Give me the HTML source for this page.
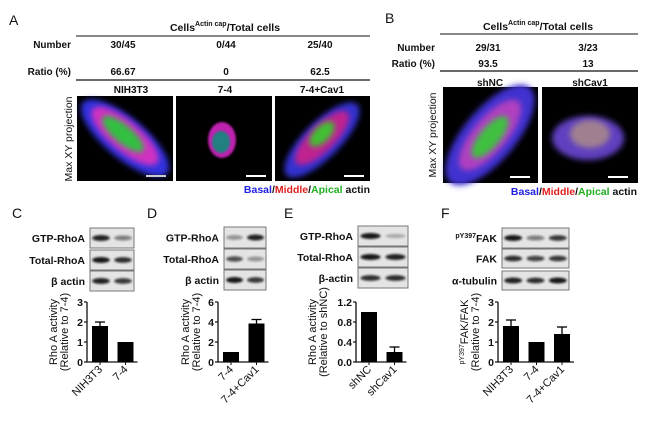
<!DOCTYPE html>
<html><head><meta charset="utf-8"><style>
body{margin:0;background:#fff;}
svg{display:block;font-family:"Liberation Sans",Arial,sans-serif;}
.t{font-size:10px;font-weight:bold;fill:#111;}
.pl{font-size:14px;fill:#111;}
</style></head><body>
<svg id="fig" width="650" height="435" viewBox="0 0 650 435">
<defs>
<filter id="bl" x="-50%" y="-50%" width="200%" height="200%"><feGaussianBlur stdDeviation="3"/></filter>
<filter id="bl2" x="-50%" y="-50%" width="200%" height="200%"><feGaussianBlur stdDeviation="1.1"/></filter>
</defs>
<!-- Panel A -->
<text class="pl" x="9" y="25">A</text>
<text class="t" x="225" y="31" text-anchor="middle" style="font-size:10.5px">Cells<tspan font-size="7" dy="-5">Actin cap</tspan><tspan dy="5">/Total cells</tspan></text>
<line x1="76" y1="36" x2="370" y2="36" stroke="#111"/>
<g class="t">
<text x="71" y="48" text-anchor="end">Number</text>
<text x="123" y="48" text-anchor="middle">30/45</text>
<text x="226" y="48" text-anchor="middle">0/44</text>
<text x="320" y="48" text-anchor="middle">25/40</text>
<text x="71" y="75" text-anchor="end">Ratio (%)</text>
<text x="123" y="75" text-anchor="middle">66.67</text>
<text x="226" y="75" text-anchor="middle">0</text>
<text x="320" y="75" text-anchor="middle">62.5</text>
<text x="131" y="93" text-anchor="middle">NIH3T3</text>
<text x="225" y="93" text-anchor="middle">7-4</text>
<text x="322" y="93" text-anchor="middle">7-4+Cav1</text>
</g>
<line x1="76" y1="80" x2="370" y2="80" stroke="#111" stroke-width="1.3"/>
<text class="t" transform="translate(72,139) rotate(-90)" text-anchor="middle" style="font-weight:normal;font-size:10.5px">Max XY projection</text>
<g>
<rect x="77" y="96" width="96" height="85" fill="#000"/>
<ellipse cx="125" cy="138" rx="55" ry="20" transform="rotate(40 125 138)" fill="#3030e0" filter="url(#bl)"/>
<ellipse cx="125" cy="136" rx="42" ry="15" transform="rotate(40 125 136)" fill="#d030c0" filter="url(#bl)"/>
<ellipse cx="123" cy="134" rx="26" ry="9" transform="rotate(40 123 134)" fill="#30c040" filter="url(#bl)"/>
<rect x="146" y="175" width="20" height="2" fill="#ccc"/></g>
<g>
<rect x="176" y="96" width="96" height="85" fill="#000"/>
<ellipse cx="222" cy="140" rx="14" ry="18" fill="#c020b0" filter="url(#bl2)"/>
<ellipse cx="221" cy="142" rx="9" ry="11" fill="#208080" filter="url(#bl2)"/>
<rect x="246" y="175" width="20" height="2" fill="#fff"/></g>
<g>
<rect x="275" y="96" width="95" height="85" fill="#000"/>
<ellipse cx="322" cy="140" rx="50" ry="18" transform="rotate(-45 322 140)" fill="#3030d0" filter="url(#bl)"/>
<ellipse cx="322" cy="138" rx="36" ry="13" transform="rotate(-45 322 138)" fill="#c02090" filter="url(#bl)"/>
<ellipse cx="322" cy="134" rx="16" ry="8" transform="rotate(-45 322 134)" fill="#40c030" filter="url(#bl)"/>
<rect x="344" y="175" width="20" height="2" fill="#fff"/></g>
<text class="t" x="370" y="193" text-anchor="end" style="font-size:10.5px"><tspan fill="#2020e0">Basal</tspan>/<tspan fill="#e02020">Middle</tspan>/<tspan fill="#20b020">Apical</tspan> actin</text>
<!-- Panel B -->
<text class="pl" x="385" y="23">B</text>
<text class="t" x="538" y="30" text-anchor="middle" style="font-size:10.5px">Cells<tspan font-size="7" dy="-5">Actin cap</tspan><tspan dy="5">/Total cells</tspan></text>
<line x1="440" y1="34" x2="638" y2="34" stroke="#111"/>
<g class="t">
<text x="435" y="51" text-anchor="end">Number</text>
<text x="488" y="51" text-anchor="middle">29/31</text>
<text x="588" y="51" text-anchor="middle">3/23</text>
<text x="435" y="67" text-anchor="end">Ratio (%)</text>
<text x="488" y="67" text-anchor="middle">93.5</text>
<text x="588" y="67" text-anchor="middle">13</text>
<text x="490" y="86" text-anchor="middle">shNC</text>
<text x="590" y="86" text-anchor="middle">shCav1</text>
</g>
<line x1="440" y1="71" x2="638" y2="71" stroke="#111" stroke-width="1.3"/>
<text class="t" transform="translate(436,135) rotate(-90)" text-anchor="middle" style="font-weight:normal;font-size:10.5px">Max XY projection</text>
<g>
<rect x="443" y="87" width="95" height="96" fill="#000"/>
<ellipse cx="490" cy="135" rx="62" ry="26" transform="rotate(-50 490 135)" fill="#4030d0" filter="url(#bl)"/>
<ellipse cx="490" cy="135" rx="44" ry="17" transform="rotate(-50 490 135)" fill="#b040c0" filter="url(#bl)"/>
<ellipse cx="490" cy="137" rx="26" ry="10" transform="rotate(-50 490 137)" fill="#40c040" filter="url(#bl)"/>
<rect x="510" y="176" width="20" height="2" fill="#fff"/></g>
<g>
<rect x="542" y="87" width="96" height="96" fill="#000"/>
<ellipse cx="588" cy="138" rx="36" ry="22" fill="#6040c0" filter="url(#bl)"/>
<ellipse cx="590" cy="134" rx="20" ry="14" fill="#a08090" filter="url(#bl)"/>
<rect x="608" y="176" width="20" height="2" fill="#fff"/></g>
<text class="t" x="637" y="195" text-anchor="end" style="font-size:10.5px"><tspan fill="#2020e0">Basal</tspan>/<tspan fill="#e02020">Middle</tspan>/<tspan fill="#20b020">Apical</tspan> actin</text>
<!-- lower panel labels -->
<text class="pl" x="12" y="218">C</text>
<text class="pl" x="147" y="218">D</text>
<text class="pl" x="284" y="218">E</text>
<text class="pl" x="441" y="218">F</text>
<g id="blots"></g>
<g id="charts"></g>
</svg>
<script>
const NS="http://www.w3.org/2000/svg";
// Chart data
const cCats=["NIH3T3","7-4"], cVals=[1.8,1], cErr=[0.2,0], cTicks=["0","1","2","3"], cMax=3;
const dCats=["7-4","7-4+Cav1"], dVals=[1,3.85], dErr=[0,0.4], dTicks=["0","2","4","6"], dMax=6;
const eCats=["shNC","shCav1"], eVals=[1,0.2], eErr=[0,0.1], eTicks=["0.0","0.4","0.8","1.2"], eMax=1.2;
const fCats=["NIH3T3","7-4","7-4+Cav1"], fVals=[1.8,1,1.4], fErr=[0.3,0,0.35], fTicks=["0","1","2","3"], fMax=3;

function mk(tag,attrs,parent){const e=document.createElementNS(NS,tag);for(const k in attrs)e.setAttribute(k,attrs[k]);parent.appendChild(e);return e;}
const charts=document.getElementById('charts');
const Y0=362,Y1=302;
function chart(key,ax,cats,vals,errs,ticks,max,title1,title2,tx){
  const g=mk('g',{},charts);
  
  
  const y=v=>Y0-(v/max)*(Y0-Y1);
  const bw=16,step=25.5;
  const xb=i=>ax+5+i*step;
  const axis=mk('path',{d:`M${ax},${Y1} V${Y0} H${xb(cats.length-1)+bw+4}`,stroke:'#111','stroke-width':1.3,fill:'none'},g);
  
  
  ticks.forEach((t,i)=>{
    const v=parseFloat(t),yy=y(v);
    mk('line',{x1:ax-3,x2:ax,y1:yy,y2:yy,stroke:'#111','stroke-width':1.2},g);
    const tl=mk('text',{x:ax-4,y:yy+4,'text-anchor':'end',class:'t',style:'font-size:10.5px'},g);
    tl.textContent=t;
    
    
  });
  cats.forEach((c,i)=>{
    const x=xb(i),top=y(vals[i]);
    const r=mk('rect',{x:x,y:top,width:bw,height:Y0-top,fill:'#000'},g);
    
    
    if(errs[i]>0){const ye=y(vals[i]+errs[i]);
      mk('line',{x1:x+bw/2,x2:x+bw/2,y1:top,y2:ye,stroke:'#000','stroke-width':1.3},g);
      mk('line',{x1:x+bw/2-5,x2:x+bw/2+5,y1:ye,y2:ye,stroke:'#000','stroke-width':1.3},g);}
    const cx=x+bw/2+3;
    mk('line',{x1:x+bw/2,x2:x+bw/2,y1:Y0,y2:Y0+3,stroke:'#111'},g);
    const l=mk('text',{x:cx,y:Y0+8,'text-anchor':'end',class:'t',transform:`rotate(-45 ${cx} ${Y0+8})`,style:'font-size:11px;font-weight:normal'},g);
    l.textContent=c;
    
    
  });
  const tt=mk('text',{transform:`translate(${tx},${(Y0+Y1)/2}) rotate(-90)`,'text-anchor':'middle',class:'t',style:'font-size:11px;font-weight:normal'},g);
  tt.innerHTML=`<tspan x="0" y="0">${title1}</tspan><tspan x="0" y="11">${title2}</tspan>`;
  
  
}
chart('c',87,cCats,cVals,cErr,cTicks,cMax,'Rho A activity','(Relative to 7-4)',57);
chart('d',218,dCats,dVals,dErr,dTicks,dMax,'Rho A activity','(Relative to 7-4)',189);
chart('e',356,eCats,eVals,eErr,eTicks,eMax,'Rho A activity','(Relative to shNC)',316);
chart('f',498,fCats,fVals,fErr,fTicks,fMax,'<tspan font-size="7" dy="-4">pY397</tspan><tspan dy="4">FAK/FAK</tspan>','(Relative to 7-4)',468);

// Blots
const blots=document.getElementById('blots');
function blot(key,x,w,rows,labels,bands){
  rows.forEach((r,ri)=>{
    const g=mk('g',{},blots);
    
    
    mk('rect',{x:x,y:r[0],width:w,height:r[1],fill:'#e4e4e4',stroke:'#777','stroke-width':1},g);
    const n=bands[ri].length, lw=w/n;
    bands[ri].forEach((b,bi)=>{
      mk('ellipse',{cx:x+lw*(bi+0.5),cy:r[0]+r[1]/2,rx:lw*0.4,ry:1.8+b*1.3,fill:'#111','fill-opacity':b,filter:'url(#bl2)'},g);
    });
    const t=mk('text',{x:x-5,y:r[0]+r[1]/2+4,'text-anchor':'end',class:'t',style:'font-size:10.5px'},g);
    t.innerHTML=labels[ri];
  });
}
blot('c',90,44,[[228,20],[250,20],[271,20]],['GTP-RhoA','Total-RhoA','β actin'],[[0.9,0.5],[0.95,0.85],[0.9,0.8]]);
blot('d',224,42,[[227,21],[249,20],[270,20]],['GTP-RhoA','Total-RhoA','β actin'],[[0.4,0.9],[0.7,0.4],[0.95,0.8]]);
blot('e',358,50,[[226,20],[247,20],[268,20]],['GTP-RhoA','Total-RhoA','β-actin'],[[0.95,0.25],[0.95,0.9],[0.85,0.85]]);
blot('f',502,67,[[228,20],[249,19],[271,19]],['<tspan font-size="7" dy="-4">pY397</tspan><tspan dy="4">FAK</tspan>','FAK','α-tubulin'],[[0.95,0.5,0.8],[0.85,0.75,0.8],[0.9,0.85,0.95]]);
</script>
</body></html>
